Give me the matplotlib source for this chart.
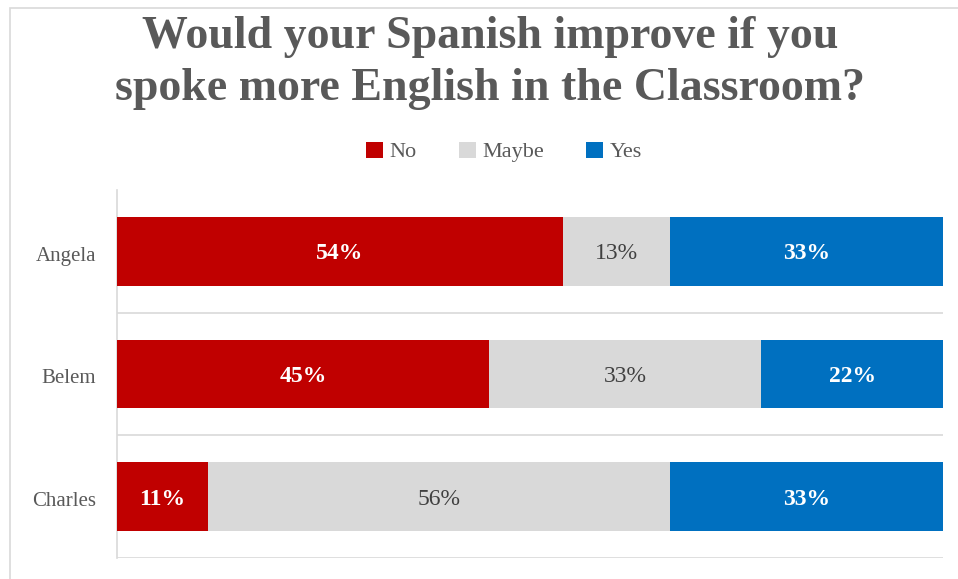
import matplotlib
matplotlib.use("Agg")
import matplotlib.pyplot as plt
from matplotlib.patches import Rectangle

categories = ["Angela", "Belem", "Charles"]
no_vals = [54, 45, 11]
maybe_vals = [13, 33, 56]
yes_vals = [33, 22, 33]
series_names = ["No", "Maybe", "Yes"]

colors = ["#C00000", "#D9D9D9", "#0070C0"]
label_colors = ["white", "#404040", "white"]
label_weights = ["bold", "normal", "bold"]
serif = ["Liberation Serif", "DejaVu Serif"]

fig = plt.figure(figsize=(9.58, 5.79), dpi=100)
fig.patches.append(Rectangle((10/958, -0.1), 1.2, (579-8)/579 + 0.1, transform=fig.transFigure,
                             fill=False, edgecolor="#D9D9D9", linewidth=1.2, zorder=0))

ax = fig.add_axes([117/958, 1 - 558/579, (943-117)/958, (558-190)/579])

y = list(range(len(categories)))
series = [no_vals, maybe_vals, yes_vals]
left = [0]*len(categories)
handles = []
for vals, name, c, lc, lw in zip(series, series_names, colors, label_colors, label_weights):
    bars = ax.barh(y, vals, left=left, height=0.56, color=c, label=name, zorder=3)
    handles.append(bars)
    for yi, v, l in zip(y, vals, left):
        ax.text(l + v/2, yi + 0.02, f"{v}%", ha="center", va="center", color=lc,
                fontsize=17, fontweight=lw, family=serif, zorder=4)
    left = [a + b for a, b in zip(left, vals)]

ax.set_xlim(0, 100)
ax.set_ylim(2.5, -0.5)
ax.set_yticks([v + 0.02 for v in y])
ax.set_yticklabels(categories, family=serif, fontsize=15, color="#595959")
ax.tick_params(axis="y", length=0, pad=15)
ax.set_xticks([])
for b in [0.5, 1.5, 2.5]:
    ax.axhline(b, color="#D9D9D9", linewidth=1.2, zorder=1)
for s in ["top", "right", "bottom"]:
    ax.spines[s].set_visible(False)
ax.spines["left"].set_color("#D9D9D9")
ax.spines["left"].set_linewidth(1.2)

fig.text(490/958, 1 - 63/579, "Would your Spanish improve if you\nspoke more English in the Classroom?",
         ha="center", va="center", fontsize=33, fontweight="bold", color="#595959",
         family=serif, linespacing=1.3)

fig.legend(handles=handles, labels=series_names, loc="center", bbox_to_anchor=(504/958, 1 - 152/579),
           ncol=3, frameon=False, prop={"family": serif, "size": 16},
           handlelength=0.75, handleheight=0.75, handletextpad=0.3, columnspacing=1.9,
           labelcolor="#595959")

fig.savefig("out.png", dpi=100)
